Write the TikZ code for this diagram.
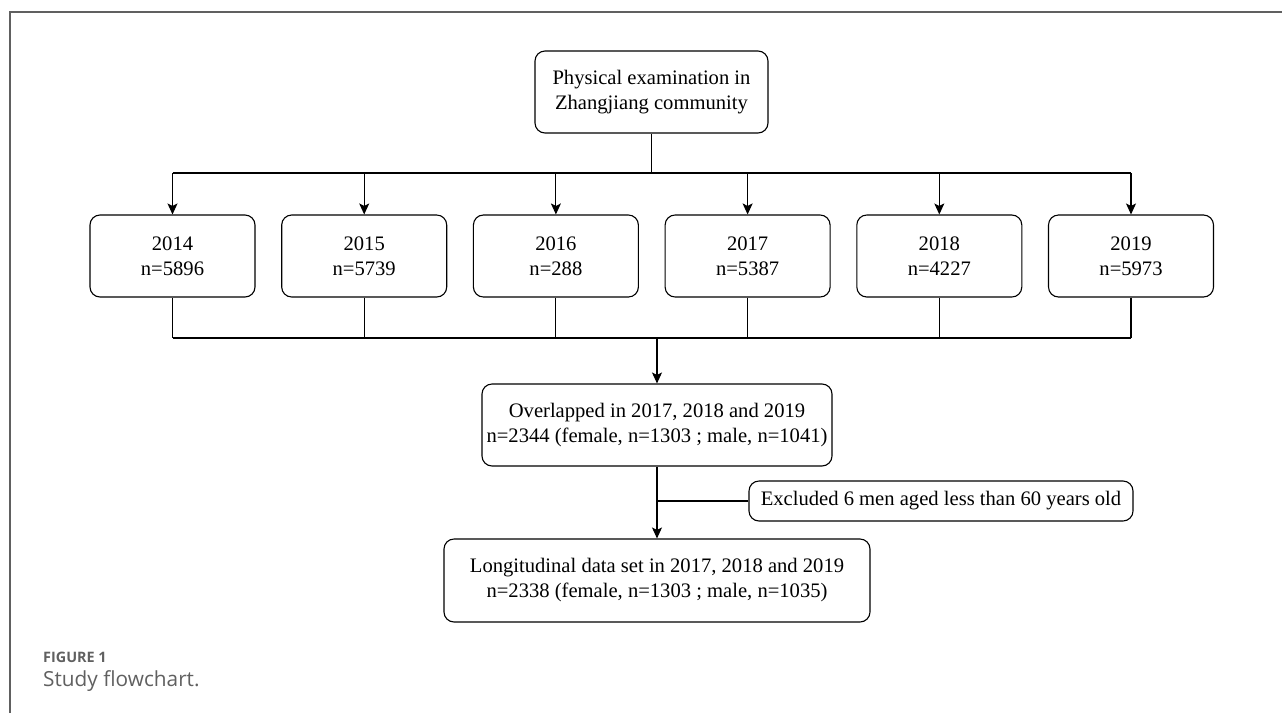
\documentclass[tikz,border=0pt]{standalone}
\usepackage{fontspec}
\setmainfont{Liberation Serif}
\newfontfamily\capfont{Open Sans}
\usetikzlibrary{arrows.meta}
\definecolor{capgray}{HTML}{606060}
\tikzset{
  box/.style={draw, rounded corners=10pt, line width=1.1pt, align=center, inner sep=2pt,
    font=\fontsize{20.6}{25}\selectfont},
  link/.style={line width=1.1pt},
}
\begin{document}
\begin{tikzpicture}[x=1pt, y=-1pt, >={Stealth[length=11pt, width=10pt, inset=2.5pt]}]
  \useasboundingbox (0,0) rectangle (1282,713);
  \draw[capgray, line width=1.4pt] (10,713) -- (10,12) -- (1282,12);

  \node[box, minimum width=233pt, minimum height=82pt] (top) at (651.5,92)
    {Physical examination in\\Zhangjiang community};
  \coordinate (bust) at (651.5,173);
  \draw[link] (top.south) -- (bust);
  \foreach \i/\yr/\n in {0/2014/5896, 1/2015/5739, 2/2016/288, 3/2017/5387, 4/2018/4227, 5/2019/5973} {
    \node[box, minimum width=165pt, minimum height=82pt] (y\i) at (172.5+191.7*\i,256) {\yr\\n=\n};
    \draw[link, ->] (y\i.north |- bust) -- (y\i.north);
  }
  \draw[link] (y0.north |- bust) -- (y5.north |- bust);

  \node[box, minimum width=350pt, minimum height=82pt] (ovl) at (657,425)
    {Overlapped in 2017, 2018 and 2019\\n=2344 (female, n=1303 ; male, n=1041)};
  \coordinate (busb) at (657,338);
  \foreach \i in {0,...,5}
    \draw[link] (y\i.south) -- (y\i.south |- busb);
  \draw[link] (y0.south |- busb) -- (y5.south |- busb);
  \draw[link, ->] (busb) -- (ovl.north);

  \node[box, minimum width=384pt, minimum height=40pt] (excl) at (941,501)
    {Excluded 6 men aged less than 60 years old};
  \node[box, minimum width=426pt, minimum height=83pt] (long) at (657,580.5)
    {Longitudinal data set in 2017, 2018 and 2019\\n=2338 (female, n=1303 ; male, n=1035)};
  \draw[link, ->] (ovl.south) -- (long.north);
  \draw[link] (excl.west) -- (excl.west -| ovl.south);

  % caption
  \node[anchor=west, inner sep=0pt, text=capgray, font=\capfont\bfseries\fontsize{14.4}{17}\selectfont] (fig) at (43,657) {FIGURE 1};
  \node[anchor=west, inner sep=0pt, text=capgray, font=\capfont\fontsize{20.8}{24}\selectfont] (cap) at (43,681) {Study flowchart.};
\end{tikzpicture}
\end{document}
